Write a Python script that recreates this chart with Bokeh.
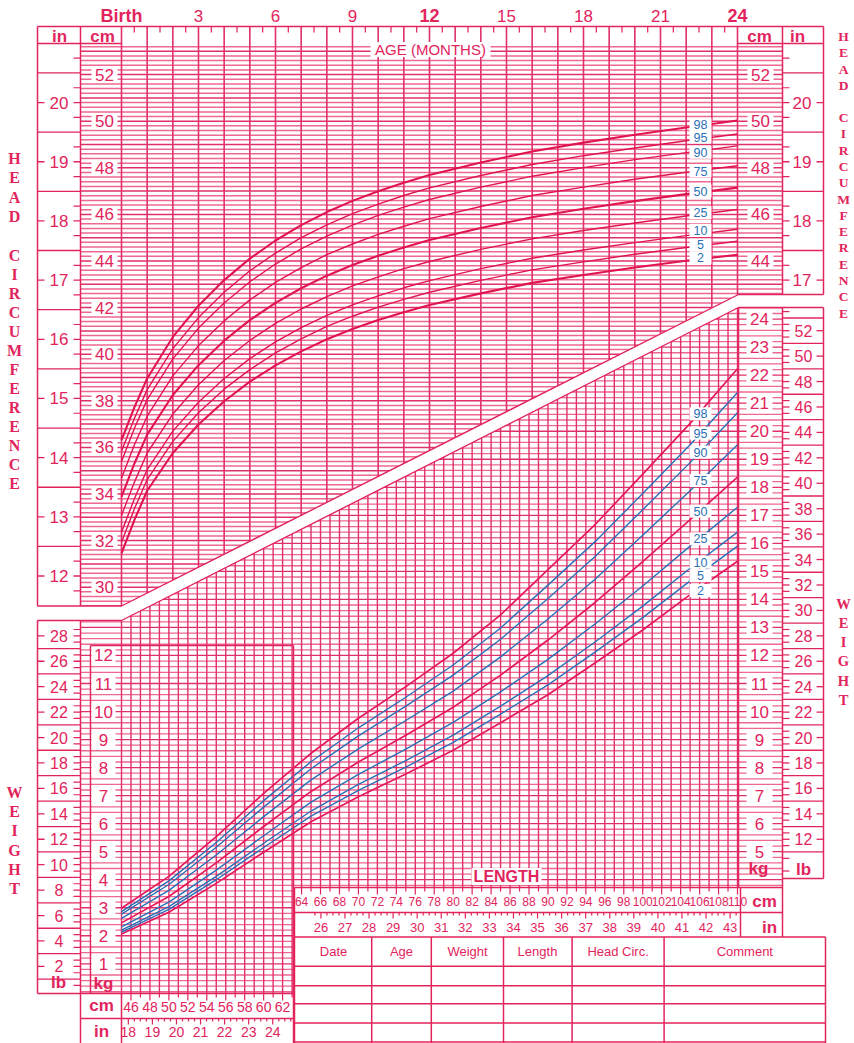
import numpy as np
from bokeh.plotting import figure
from bokeh.models import Range1d
from bokeh.embed import file_html
from bokeh.resources import INLINE
from bokeh.core.properties import value

# ---------------- DATA ----------------
percentile_names = ["2", "5", "10", "25", "50", "75", "90", "95", "98"]

# Head circumference-for-age (cm)
head_age_months = [0, 0.5, 1, 2, 3, 4, 5, 6, 7, 8, 9, 10, 11, 12, 14, 16, 18, 20, 22, 24]
head_p2 = [31.45, 32.88, 34.14, 35.76, 36.98, 37.98, 38.82, 39.52, 40.12, 40.64, 41.08, 41.47, 41.80, 42.11, 42.61, 43.06, 43.40, 43.72, 44.01, 44.27]
head_p5 = [31.93, 33.36, 34.62, 36.26, 37.49, 38.50, 39.34, 40.06, 40.66, 41.19, 41.63, 42.02, 42.35, 42.66, 43.17, 43.62, 43.96, 44.29, 44.58, 44.85]
head_p10 = [32.36, 33.79, 35.05, 36.70, 37.94, 38.96, 39.81, 40.53, 41.14, 41.67, 42.12, 42.50, 42.85, 43.16, 43.67, 44.12, 44.47, 44.79, 45.09, 45.36]
head_p25 = [33.08, 34.50, 35.76, 37.43, 38.69, 39.73, 40.59, 41.32, 41.94, 42.47, 42.93, 43.32, 43.67, 43.98, 44.50, 44.95, 45.31, 45.63, 45.93, 46.21]
head_p50 = [33.88, 35.30, 36.55, 38.25, 39.53, 40.58, 41.46, 42.20, 42.83, 43.37, 43.83, 44.23, 44.58, 44.90, 45.42, 45.88, 46.24, 46.57, 46.87, 47.15]
head_p75 = [34.68, 36.10, 37.34, 39.07, 40.37, 41.43, 42.33, 43.08, 43.72, 44.27, 44.73, 45.14, 45.49, 45.82, 46.34, 46.81, 47.17, 47.51, 47.81, 48.09]
head_p90 = [35.40, 36.81, 38.05, 39.80, 41.12, 42.20, 43.11, 43.87, 44.52, 45.07, 45.54, 45.96, 46.31, 46.64, 47.17, 47.64, 48.01, 48.35, 48.65, 48.94]
head_p95 = [35.83, 37.24, 38.48, 40.24, 41.57, 42.66, 43.58, 44.34, 45.00, 45.55, 46.03, 46.44, 46.81, 47.14, 47.67, 48.14, 48.52, 48.85, 49.16, 49.45]
head_p98 = [36.31, 37.72, 38.96, 40.74, 42.08, 43.18, 44.10, 44.88, 45.54, 46.10, 46.58, 46.99, 47.36, 47.69, 48.23, 48.70, 49.08, 49.42, 49.73, 50.03]
head_label_cm = [44.14, 44.69, 45.32, 46.07, 47.00, 47.86, 48.67, 49.32, 49.86]

# Weight-for-length (kg)
wfl_length_cm = [45, 50, 55, 60, 65, 70, 75, 80, 85, 90, 95, 100, 105, 110]
wfl_p2 = [2.06, 2.84, 3.87, 4.98, 6.07, 6.96, 7.77, 8.62, 9.60, 10.60, 11.74, 12.91, 14.17, 15.36]
wfl_p5 = [2.13, 2.94, 4.00, 5.15, 6.27, 7.19, 8.02, 8.90, 9.91, 10.95, 12.13, 13.35, 14.66, 15.90]
wfl_p10 = [2.20, 3.04, 4.12, 5.30, 6.45, 7.40, 8.25, 9.16, 10.19, 11.28, 12.49, 13.76, 15.11, 16.40]
wfl_p25 = [2.32, 3.20, 4.34, 5.57, 6.77, 7.76, 8.66, 9.61, 10.70, 11.86, 13.13, 14.48, 15.90, 17.29]
wfl_p50 = [2.46, 3.40, 4.60, 5.90, 7.15, 8.20, 9.15, 10.15, 11.30, 12.55, 13.90, 15.35, 16.85, 18.36]
wfl_p75 = [2.62, 3.62, 4.88, 6.25, 7.56, 8.67, 9.68, 10.73, 11.95, 13.30, 14.73, 16.29, 17.88, 19.52]
wfl_p90 = [2.77, 3.83, 5.16, 6.59, 7.96, 9.13, 10.19, 11.30, 12.58, 14.03, 15.54, 17.20, 18.88, 20.66]
wfl_p95 = [2.86, 3.96, 5.33, 6.82, 8.21, 9.42, 10.51, 11.66, 12.98, 14.51, 16.07, 17.78, 19.52, 21.38]
wfl_p98 = [2.98, 4.12, 5.54, 7.08, 8.51, 9.76, 10.89, 12.08, 13.45, 15.06, 16.68, 18.47, 20.28, 22.23]
wfl_label_kg = [14.32, 14.85, 15.33, 16.16, 17.15, 18.24, 19.25, 19.93, 20.62]

# Tick labels
age_tick_months = [0, 3, 6, 9, 12, 15, 18, 21, 24]
age_tick_labels = ["Birth", "3", "6", "9", "12", "15", "18", "21", "24"]
age_tick_bold = [True, False, False, False, True, False, False, False, True]
head_cm_ticks_left = [30, 32, 34, 36, 38, 40, 42, 44, 46, 48, 50, 52]
head_cm_ticks_right = [44, 46, 48, 50, 52]
head_in_ticks_left = [12, 13, 14, 15, 16, 17, 18, 19, 20]
head_in_ticks_right = [17, 18, 19, 20]
kg_ticks_left = [1, 2, 3, 4, 5, 6, 7, 8, 9, 10, 11, 12]
kg_ticks_right = [5, 6, 7, 8, 9, 10, 11, 12, 13, 14, 15, 16, 17, 18, 19, 20, 21, 22, 23, 24]
lb_ticks_left = [2, 4, 6, 8, 10, 12, 14, 16, 18, 20, 22, 24, 26, 28]
lb_ticks_right = [12, 14, 16, 18, 20, 22, 24, 26, 28, 30, 32, 34, 36, 38, 40, 42, 44, 46, 48, 50, 52]
len_cm_ticks_lower = [46, 48, 50, 52, 54, 56, 58, 60, 62]
len_in_ticks_lower = [18, 19, 20, 21, 22, 23, 24]
len_cm_ticks_upper = list(range(64, 111, 2))
len_in_ticks_upper = list(range(26, 44))
table_headers = ["Date", "Age", "Weight", "Length", "Head Circ.", "Comment"]

head_curves = [head_p2, head_p5, head_p10, head_p25, head_p50, head_p75, head_p90, head_p95, head_p98]
wfl_curves = [wfl_p2, wfl_p5, wfl_p10, wfl_p25, wfl_p50, wfl_p75, wfl_p90, wfl_p95, wfl_p98]

# ---------------- LAYOUT (picture pixels) ----------------
PINK = "#E2245D"
GRID = "#EE6890"
GRIDD = "#E0306A"
BLUE = "#2A6FB6"
SANS = "Liberation Sans"
SERIF = "Liberation Serif"
W, H = 854, 1043

HC_PX, HC_Y30 = 23.3, 586.7
AGE_X0, AGE_PX = 121.0, (737.0 - 121.0) / 24
LEN_X45, LEN_PX = 121.0, (737.0 - 121.0) / 65
KG_Y1, KG_PX = 963.3, 28.03
LB_PER_KG = 2.20462

def py_cm(c): return HC_Y30 - (c - 30) * HC_PX
def px_age(a): return AGE_X0 + a * AGE_PX
def px_len(L): return LEN_X45 + (L - 45) * LEN_PX
def py_kg(k): return KG_Y1 - (k - 1) * KG_PX

UP = ((121.0, 605.5), (738.0, 294.0))
LO = ((121.0, 620.0), (738.0, 307.0))

def edge_y(e, px):
    (ax, ay), (bx, by) = e
    return ay + (px - ax) * (by - ay) / (bx - ax)

def edge_x(e, py):
    (ax, ay), (bx, by) = e
    return ax + (py - ay) * (bx - ax) / (by - ay)

p = figure(width=W, height=H, x_range=Range1d(0, W), y_range=Range1d(H, 0),
           output_backend="svg", toolbar_location=None, x_axis_type=None, y_axis_type=None,
           min_border=0)
p.outline_line_color = None
p.background_fill_color = "white"
p.border_fill_color = "white"

hc_lo = 30 - (H - HC_Y30) / HC_PX
hc_hi = 30 + HC_Y30 / HC_PX
kg_lo = 1 - (H - KG_Y1) / KG_PX
kg_hi = 1 + KG_Y1 / KG_PX
p.extra_x_ranges = {
    "age": Range1d(-AGE_X0 / AGE_PX, (W - AGE_X0) / AGE_PX),
    "len": Range1d(45 - LEN_X45 / LEN_PX, 45 + (W - LEN_X45) / LEN_PX),
}
p.extra_y_ranges = {
    "hc": Range1d(hc_lo, hc_hi),
    "hcin": Range1d(hc_lo / 2.54, hc_hi / 2.54),
    "kg": Range1d(kg_lo, kg_hi),
    "lb": Range1d(kg_lo * LB_PER_KG, kg_hi * LB_PER_KG),
}

def seg(x0, y0, x1, y1, color=PINK, width=1.0, xr="default", yr="default", alpha=1.0):
    p.segment(x0=list(x0), y0=list(y0), x1=list(x1), y1=list(y1), line_color=color,
              line_width=width, line_alpha=alpha, x_range_name=xr, y_range_name=yr)

def txt(x, y, t, size, color=PINK, bold=False, xr="default", yr="default", font=SANS, align="center"):
    p.text(x=list(x), y=list(y), text=[str(s) for s in t], text_font=value(font),
           text_font_size="%.1fpx" % size, text_font_style="bold" if bold else "normal",
           text_color=color, text_align=align, text_baseline="middle",
           x_range_name=xr, y_range_name=yr)

def box(x, y, w, h, xr="default", yr="default"):
    p.rect(x=list(x), y=list(y), width=w, height=h, width_units="screen", height_units="screen",
           fill_color="white", line_color=None, x_range_name=xr, y_range_name=yr)

# ---------- head grid ----------
hc_vals = np.round(np.arange(29.2, 53.21, 0.2), 2)
for dark in (False, True):
    ys, x1s = [], []
    for c in hc_vals:
        is_whole = abs(c - round(c)) < 1e-6
        if is_whole != dark:
            continue
        py = py_cm(c)
        if py > UP[0][1]:
            continue
        x1 = 782.0 if py <= UP[1][1] else edge_x(UP, py)
        ys.append(c); x1s.append(x1)
    seg([80.0] * len(ys), ys, x1s, ys, color=GRIDD if dark else GRID, width=1.5, yr="hc")

months = list(range(25))
seg(months, [26.0] * 25, months, [edge_y(UP, px_age(m)) for m in months], color=GRIDD, width=1.6, xr="age")
half = [m + 0.5 for m in range(24)]
seg(half, [26.0] * 24, half, [32.0] * 24, color=GRIDD, width=1.3, xr="age")

# ---------- weight grid ----------
kg_vals = np.round(np.arange(0, 24.41, 0.2), 2)
for dark in (False, True):
    ys, x0s, x1s = [], [], []
    for k in kg_vals:
        is_whole = abs(k - round(k)) < 1e-6
        if is_whole != dark:
            continue
        py = py_kg(k)
        if py < LO[1][1]:
            continue
        x0 = 80.0 if py >= LO[0][1] else edge_x(LO, py)
        x1 = 293.0 if py > 887 else 782.0
        ys.append(k); x0s.append(x0); x1s.append(x1)
    seg(x0s, ys, x1s, ys, color=GRIDD if dark else GRID, width=1.3, yr="kg")

lens = list(range(45, 111))
seg(lens, [993.0 if px_len(L) <= 294 else 887.0 for L in lens], lens,
    [edge_y(LO, px_len(L)) for L in lens], color=GRIDD, width=1.4, xr="len")

# ---------- curves ----------
for name, vals in zip(percentile_names, head_curves):
    w = 2.1 if name in ("2", "50", "98") else 1.4
    p.line(head_age_months, vals, line_color="#E0144F", line_width=w, x_range_name="age", y_range_name="hc")
for name, vals in zip(percentile_names, wfl_curves):
    pinkline = name in ("2", "50", "98")
    p.line(wfl_length_cm, vals, line_color="#E4185A" if pinkline else BLUE,
           line_width=1.7 if pinkline else 1.4, x_range_name="len", y_range_name="kg")

# ---------- white band between the charts ----------
p.patch([30, 121, 738, 830, 830, 738, 121, 30], [605.5, 605.5, 294, 294, 307, 307, 620, 620],
        fill_color="white", line_color=None)
p.line([37, 121, 738, 823], [605.5, 605.5, 294, 294], line_color=PINK, line_width=1.4)
p.line([37, 121, 738, 823], [620, 620, 307, 307], line_color=PINK, line_width=1.4)

# ---------- frames ----------
frame = [
    (37, 26, 823, 26), (37, 43, 121, 43), (737, 43, 823, 43),
    (37, 26, 37, 605.5), (80, 26, 80, 605.5), (782, 26, 782, 294), (823, 26, 823, 294),
    (37, 620, 37, 993), (80, 620, 80, 1043), (782, 307, 782, 936.5), (823, 307, 823, 878),
    (782, 878, 823, 878), (37, 993, 293, 993), (80, 1018, 293, 1018), (121, 993, 121, 1043),
    (293, 645, 293, 1043), (90, 645, 293, 645), (90, 645, 90, 993),
    (294, 887, 782, 887), (294, 912, 782, 912), (294, 936.5, 825, 936.5), (294, 887, 294, 1043),
    (740, 887, 740, 936.5), (738, 307, 738, 887),
]
for xv in (371.2, 430.8, 503.0, 571.6, 663.6, 825.0):
    frame.append((xv, 936.5, xv, 1043))
for yv in (965.8, 985.3, 1003.3, 1022.5, 1041.6):
    frame.append((294, yv, 825, yv))
seg([f[0] for f in frame], [f[1] for f in frame], [f[2] for f in frame], [f[3] for f in frame],
    color=PINK, width=1.5)

# ---------- inch / pound side columns ----------
def side_column(xl, xr, inner_right, labels, long_vals, tick_vals, yr):
    n = len(labels)
    seg([xl] * n, labels, [xl + 7] * n, labels, width=1.3, yr=yr)
    seg([xr - 7] * n, labels, [xr] * n, labels, width=1.3, yr=yr)
    m = len(long_vals)
    seg([xl] * m, long_vals, [xr] * m, long_vals, width=1.3, yr=yr)
    t = len(tick_vals)
    if inner_right:
        seg([xr - 7] * t, tick_vals, [xr] * t, tick_vals, width=1.2, yr=yr)
    else:
        seg([xl] * t, tick_vals, [xl + 7] * t, tick_vals, width=1.2, yr=yr)

side_column(37, 80, True, head_in_ticks_left, [v + 0.5 for v in range(12, 21)],
            [v + q for v in range(11, 21) for q in (0.25, 0.75) if v + q >= 11.5], "hcin")
side_column(782, 823, False, head_in_ticks_right, [v + 0.5 for v in range(17, 21)],
            [v + q for v in range(17, 21) for q in (0.25, 0.75)], "hcin")
side_column(37, 80, True, lb_ticks_left, list(range(1, 28, 2)), [v + 0.5 for v in range(0, 29)], "lb")
side_column(782, 823, False, lb_ticks_right, list(range(11, 54, 2)), [v + 0.5 for v in range(9, 54)], "lb")

# ---------- rulers ----------
up_cm = list(range(64, 111))
seg(up_cm, [887.0] * len(up_cm), up_cm, [894.0 if L % 2 == 0 else 891.0 for L in up_cm], width=1.2, xr="len")
up_in = [v / 4 for v in range(26 * 4 - 1, 43 * 4 + 2)]
seg([v * 2.54 for v in up_in], [912.0] * len(up_in), [v * 2.54 for v in up_in],
    [918.0 if v == int(v) else 915.0 for v in up_in], width=1.2, xr="len")
lo_cm = list(range(45, 64))
seg(lo_cm, [993.0] * len(lo_cm), lo_cm, [1000.0 if L % 2 == 0 else 997.0 for L in lo_cm], width=1.2, xr="len")
lo_in = [v / 4 for v in range(18 * 4, 24 * 4 + 4)]
seg([v * 2.54 for v in lo_in], [1018.0] * len(lo_in), [v * 2.54 for v in lo_in],
    [1024.0 if v == int(v) else 1021.0 for v in lo_in], width=1.2, xr="len")

# ---------- labels ----------
for bold in (True, False):
    idx = [i for i, b in enumerate(age_tick_bold) if b == bold]
    txt([age_tick_months[i] for i in idx], [15.0] * len(idx), [age_tick_labels[i] for i in idx],
        18 if bold else 17, bold=bold, xr="age")

box([104] * len(head_cm_ticks_left), head_cm_ticks_left, 26, 16, yr="hc")
txt([104] * len(head_cm_ticks_left), head_cm_ticks_left, head_cm_ticks_left, 17, yr="hc")
box([760] * len(head_cm_ticks_right), head_cm_ticks_right, 26, 16, yr="hc")
txt([760] * len(head_cm_ticks_right), head_cm_ticks_right, head_cm_ticks_right, 17, yr="hc")
txt([58.5] * len(head_in_ticks_left), head_in_ticks_left, head_in_ticks_left, 17, yr="hcin")
txt([801.5] * len(head_in_ticks_right), head_in_ticks_right, head_in_ticks_right, 17, yr="hcin")

box([103] * len(kg_ticks_left), kg_ticks_left, 24, 16, yr="kg")
txt([103] * len(kg_ticks_left), kg_ticks_left, kg_ticks_left, 17, yr="kg")
box([759] * len(kg_ticks_right), kg_ticks_right, 26, 16, yr="kg")
txt([759] * len(kg_ticks_right), kg_ticks_right, kg_ticks_right, 17, yr="kg")
txt([58.5] * len(lb_ticks_left), lb_ticks_left, lb_ticks_left, 16, yr="lb")
txt([803] * len(lb_ticks_right), lb_ticks_right, lb_ticks_right, 16, yr="lb")

txt(len_cm_ticks_lower, [1006.0] * len(len_cm_ticks_lower), len_cm_ticks_lower, 14, xr="len")
txt([v * 2.54 for v in len_in_ticks_lower], [1031.0] * len(len_in_ticks_lower), len_in_ticks_lower, 14, xr="len")
txt(len_cm_ticks_upper, [901.0] * len(len_cm_ticks_upper), len_cm_ticks_upper, 12, xr="len")
txt([v * 2.54 for v in len_in_ticks_upper], [927.0] * len(len_in_ticks_upper), len_in_ticks_upper, 13, xr="len")

unit_x = [59, 102, 759, 797, 58, 103, 101, 101, 758, 803, 764, 769]
unit_y = [36, 36, 36, 36, 982, 983, 1005, 1031, 868, 869, 901, 927]
unit_t = ["in", "cm", "cm", "in", "lb", "kg", "cm", "in", "kg", "lb", "cm", "in"]
txt(unit_x, unit_y, unit_t, 17, bold=True)

box([430], [49], 120, 15)
txt([430], [49], ["AGE (MONTHS)"], 15)
box([506], [876], 70, 17)
txt([506], [876], ["LENGTH"], 16, bold=True)

tab_x = [333.0, 401.0, 467.0, 537.0, 617.6, 744.3]
txt(tab_x, [951.0] * 6, table_headers, 13)

# percentile labels
box([700] * 9, head_label_cm, 22, 13, yr="hc")
txt([700] * 9, head_label_cm, percentile_names, 12.5, color=BLUE, yr="hc")
box([700] * 9, wfl_label_kg, 22, 13, yr="kg")
txt([700] * 9, wfl_label_kg, percentile_names, 12.5, color=BLUE, yr="kg")

# vertical captions
def vword(x, y0, step, word, size):
    ys = [y0 + i * step for i in range(len(word))]
    txt([x] * len(word), ys, list(word), size, bold=True, font=SERIF)

vword(14, 158, 19.3, "HEAD", 16)
vword(14, 255, 19.0, "CIRCUMFERENCE", 16)
vword(14, 792, 19.2, "WEIGHT", 16)
vword(843, 36, 16.3, "HEAD", 13.5)
vword(843, 117, 16.3, "CIRCUMFERENCE", 13.5)
vword(843, 603, 19.3, "WEIGHT", 14.5)

open("out.html", "w").write(file_html(p, INLINE))
